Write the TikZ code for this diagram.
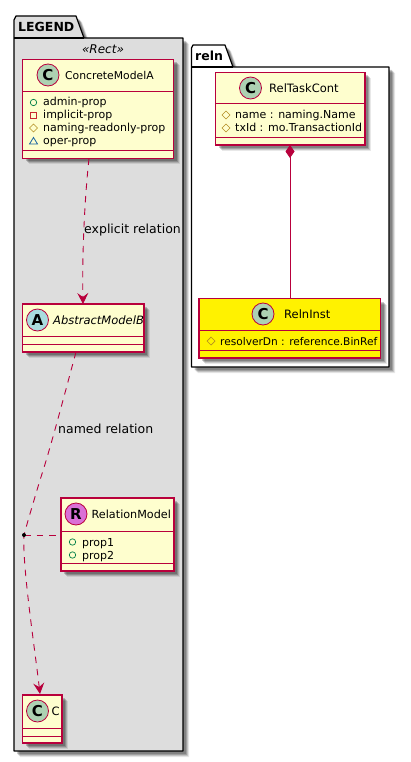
\documentclass[tikz,border=0pt]{standalone}
\usepackage{fontspec}
\setmainfont{DejaVu Sans}
\usetikzlibrary{arrows.meta,calc}
\definecolor{umlline}{HTML}{B8003C}
\definecolor{umlfill}{HTML}{FEFECE}
\definecolor{pkgfill}{HTML}{DDDDDD}
\definecolor{circC}{HTML}{ADD1B2}
\definecolor{circA}{HTML}{A9DCDF}
\definecolor{circR}{HTML}{DA70D6}
\definecolor{publine}{HTML}{038048}
\definecolor{privline}{HTML}{C82930}
\definecolor{protline}{HTML}{B38D22}
\definecolor{pkgline}{HTML}{1963A0}
\tikzset{
  x=1pt,y=-1pt,
  pkgframe/.style={draw=black,line width=1.2pt,line join=round},
  umlbox/.style={draw=umlline,line width=1.15pt,inner sep=0pt,outer sep=0pt,anchor=north west},
  divider/.style={draw=umlline,line width=1pt},
  badge/.style={circle,draw=umlline,line width=.8pt,minimum size=22pt,inner sep=0pt,font=\fontsize{15}{15}\selectfont\bfseries},
  classname/.style={font=\fontsize{11.5}{13}\selectfont,text=black,inner sep=0pt},
  field/.style={font=\fontsize{11}{13}\selectfont,anchor=base west,inner sep=0pt,text=black},
  edgelabel/.style={font=\fontsize{12.5}{14}\selectfont,anchor=base west,inner sep=0pt,text=black},
  dep/.style={draw=umlline,line width=0.9pt,dash pattern=on 6.5pt off 6pt},
  tip/.style={-{Stealth[length=11pt,width=11pt,inset=4pt]},umlline},
  iconpub/.style={draw=publine,line width=.7pt},
  iconpriv/.style={draw=privline,line width=.8pt},
  iconprot/.style={draw=protline,line width=.7pt},
  iconpkg/.style={draw=pkgline,line width=.8pt},
}
% softly blurred drop shadow of a rectangle
\newcommand{\boxshadow}[4]{%
  \foreach \d/\o in {6/.09,5/.14,4/.18,3/.2}{%
    \fill[black,opacity=\o] ({#1+\d},{#2+\d}) rectangle ({#3+\d},{#4+\d});}}
\newcommand{\umlclass}[6]{%
  \boxshadow{#2}{#3}{#4}{#5}%
  \node[umlbox,fill=#6,minimum width={(#4)-(#2)},minimum height={(#5)-(#3)}] (#1) at (#2,#3) {};}
\newcommand{\iconpub}[2]{\draw[iconpub] (#1,#2) circle (3.2pt);}
\newcommand{\iconpriv}[2]{\draw[iconpriv] ({#1-3},{#2-3}) rectangle ({#1+3},{#2+3});}
\newcommand{\iconprot}[2]{\draw[iconprot] ({#1-4},#2) -- (#1,{#2-4}) -- ({#1+4},#2) -- (#1,{#2+4}) -- cycle;}
\newcommand{\iconpkg}[2]{\draw[iconpkg] ({#1-4},{#2+3}) -- ({#1+4},{#2+3}) -- (#1,{#2-3.5}) -- cycle;}
\begin{document}
\begin{tikzpicture}
\useasboundingbox (0,0) rectangle (410,762);
\fill[white] (0,0) rectangle (410,762);

% LEGEND package
\foreach \d/\o in {6/.09,5/.14,4/.18,3/.2}{
  \fill[black,opacity=\o,shift={(\d,\d)}] (14,38) -- (14,20) -- (16,16) -- (76,16) -- (84,38) -- (183,38) -- (183,751) -- (14,751) -- cycle;}
\fill[pkgfill] (14,38) rectangle (183,751);
\fill[pkgfill] (14,38) -- (14,20) -- (16,16) -- (76,16) -- (84,38) -- cycle;
\draw[pkgframe] (14,38) -- (14,20) -- (16,16) -- (76,16) -- (84,38) -- (183,38) -- (183,751) -- (14,751) -- cycle;
\draw[pkgframe] (14,38) -- (84,38);
\node[inner sep=0pt,anchor=base west,font=\fontsize{12.5}{15}\selectfont\bfseries] (legendtitle) at (18,32) {LEGEND};
\node[inner sep=0pt,anchor=base,font=\fontsize{12}{14}\selectfont\itshape] (stereo) at (103,54) {«Rect»};

% reln package
\foreach \d/\o in {6/.09,5/.14,4/.18,3/.2}{
  \fill[black,opacity=\o,shift={(\d,\d)}] (191.5,67) -- (191.5,48) -- (193,45) -- (225,45) -- (233,67) -- (389,67) -- (389,367) -- (191.5,367) -- cycle;}
\fill[white] (191.5,67) -- (191.5,48) -- (193,45) -- (225,45) -- (233,67) -- (389,67) -- (389,367) -- (191.5,367) -- cycle;
\draw[pkgframe] (191.5,67) -- (191.5,48) -- (193,45) -- (225,45) -- (233,67) -- (389,67) -- (389,367) -- (191.5,367) -- cycle;
\draw[pkgframe] (191.5,67) -- (233,67);
\node[inner sep=0pt,anchor=base west,font=\fontsize{12.5}{15}\selectfont\bfseries] (relntitle) at (195,61) {reln};

% ConcreteModelA
\umlclass{cma}{22.5}{59.5}{173.5}{158.5}{umlfill}
\draw[divider] (22.5,91.5) -- (173.5,91.5);
\draw[divider] (22.5,150.5) -- (173.5,150.5);
\node[badge,fill=circC] (cmabadge) at (48,75) {C};
\node[classname,anchor=west,font=\fontsize{10.8}{13}\selectfont] (cmaname) at (65,75.5) {ConcreteModelA};
\iconpub{33.5}{102.5}
\iconpriv{33.5}{115.5}
\iconprot{33.5}{128}
\iconpkg{33.5}{141}
\node[field] (f1) at (43,106) {admin-prop};
\node[field] (f2) at (43,119) {implicit-prop};
\node[field] (f3) at (43,132) {naming-readonly-prop};
\node[field] (f4) at (43,145) {oper-prop};

% AbstractModelB
\umlclass{amb}{22.5}{304}{144}{352}{umlfill}
\draw[divider] (22.5,336) -- (144,336);
\draw[divider] (22.5,344) -- (144,344);
\node[badge,fill=circA] (ambbadge) at (37.5,320) {A};
\node[classname,anchor=west,font=\fontsize{11.5}{13}\selectfont\itshape] (ambname) at (53,320.5) {AbstractModelB};

% RelationModel
\umlclass{rm}{61}{498}{174}{571}{umlfill}
\draw[divider] (61,531) -- (174,531);
\draw[divider] (61,563) -- (174,563);
\node[badge,fill=circR] (rmbadge) at (76,514) {R};
\node[classname,anchor=west,font=\fontsize{11.2}{13}\selectfont] (rmname) at (91.5,514.5) {RelationModel};
\iconpub{72.5}{542}
\iconpub{72.5}{555}
\node[field] (p1) at (82,546) {prop1};
\node[field] (p2) at (82,559) {prop2};

% C
\umlclass{cc}{22.5}{695}{62}{743}{umlfill}
\draw[divider] (22.5,728) -- (62,728);
\draw[divider] (22.5,736) -- (62,736);
\node[badge,fill=circC] (ccbadge) at (37.5,711) {C};
\node[classname,anchor=west] (ccname) at (51.5,711.5) {C};

% RelTaskCont
\umlclass{rtc}{215.5}{72.5}{365}{145}{umlfill}
\draw[divider] (215.5,104) -- (365,104);
\draw[divider] (215.5,137.5) -- (365,137.5);
\node[badge,fill=circC] (rtcbadge) at (250.5,88) {C};
\node[classname,anchor=west] (rtcname) at (269,88.5) {RelTaskCont};
\iconprot{226}{115}
\iconprot{226}{128}
\node[field] (r1) at (235,119) {name : naming.Name};
\node[field] (r2) at (235,132) {txId : mo.TransactionId};

% RelnInst
\umlclass{ri}{199}{298.5}{380.5}{358}{yellow}
\draw[divider] (199,330.5) -- (380.5,330.5);
\draw[divider] (199,350.5) -- (380.5,350.5);
\node[badge,fill=circC] (ribadge) at (263,314) {C};
\node[classname,anchor=west] (riname) at (284,314.5) {RelnInst};
\iconprot{211}{341}
\node[field,font=\fontsize{10.6}{13}\selectfont] (i1) at (220,345) {resolverDn : reference.BinRef};

% connectors
\coordinate (cmaout) at ($(cma.south west)+(66.5,0)$);
\coordinate (ambin) at ($(amb.north west)+(60.5,0)$);
\coordinate (ambout) at ($(amb.south west)+(53.5,0)$);
\coordinate (ccin) at ($(cc.north west)+(17.5,-1)$);
\coordinate (relstart) at ($(rtc.south west)+(74.5,0)$);
\coordinate (relend) at ($(ri.north west)+(91,0)$);
\coordinate (joint) at (24,535);

\draw[dep,tip] (cmaout) .. controls (85,195) and (82,250) .. (ambin);
\draw[dep,tip] (ambout) .. controls (63,400) and (50,450) .. (40,480) .. controls (35,497) and (28,520) .. (joint) .. controls (22,565) and (35,650) .. (ccin);
\draw[dep] (joint) -- (rm.west |- joint);
\fill[black] (joint) circle (2pt);
\draw[draw=umlline,line width=.9pt,{Diamond[length=13pt,width=9pt,umlline]}-] (relstart) -- (relend);

\node[edgelabel] (lbl1) at (84,233) {explicit relation};
\node[edgelabel] (lbl2) at (58,433) {named relation};
\end{tikzpicture}
\end{document}
